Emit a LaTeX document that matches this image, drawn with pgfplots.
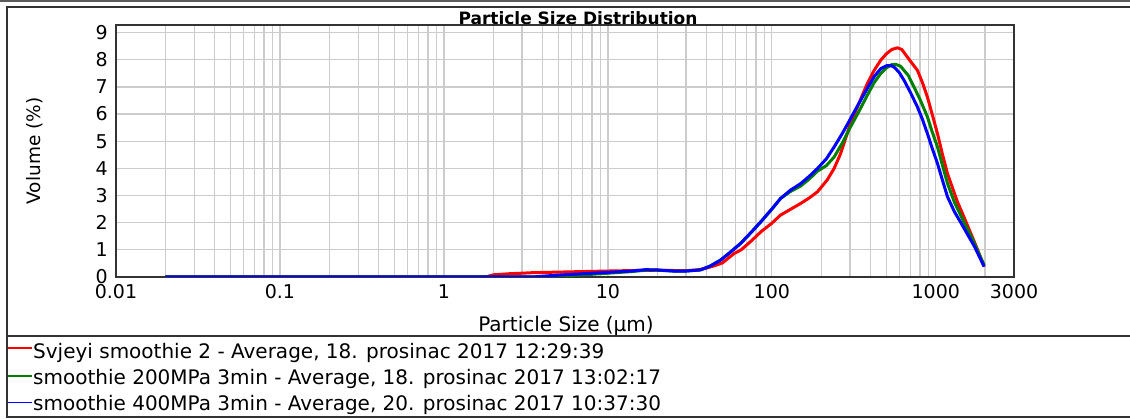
\documentclass[border=0pt]{standalone}
\usepackage{fontspec}
\setmainfont{DejaVu Sans}
\usepackage{pgfplots}
\pgfplotsset{compat=1.18}
\definecolor{gridc}{RGB}{204,204,204}
\definecolor{framec}{RGB}{51,51,51}
\definecolor{pgreen}{RGB}{0,128,0}
\begin{document}
\begin{tikzpicture}[x=1pt,y=1pt]
\useasboundingbox (0,0) rectangle (1130,418);
\fill[white] (0,0) rectangle (1130,418);
\draw[framec!80, line width=1.5pt] (0,417) -- (1130,417);
\draw[framec, line width=1.5pt] (1131,411) -- (7,411) -- (7,1) -- (1131,1);
\draw[framec, line width=1.5pt] (7,82) -- (1131,82);
\node[font=\fontsize{17pt}{20pt}\selectfont\bfseries, anchor=base, inner sep=0pt] at (578,393) {Particle Size Distribution};
\node[font=\fontsize{18.5pt}{22pt}\selectfont, rotate=90, inner sep=0pt] at (35,267) {Volume (\%)};
\node[font=\fontsize{20pt}{24pt}\selectfont, anchor=base, inner sep=0pt] at (566,87) {Particle Size (µm)};
% legend (keys)
\draw[red, line width=1.5pt] (8,70) -- (32,70);
\draw[pgreen, line width=1.5pt] (8,42) -- (32,42);
\draw[blue, line width=1.5pt] (8,15.5) -- (32,15.5);
\begin{scope}[every node/.style={font=\fontsize{20pt}{24pt}\selectfont, anchor=base west, inner sep=0pt}]
\node at (33,59.5) {Svjeyi smoothie 2 - Average, 18. prosinac 2017 12:29:39};
\node at (33,33.5) {smoothie 200MPa 3min - Average, 18. prosinac 2017 13:02:17};
\node at (33,7.5) {smoothie 400MPa 3min - Average, 20. prosinac 2017 10:37:30};
\end{scope}
\begin{axis}[
  xmode=log, log basis x=10,
  scale only axis, width=898pt, height=252pt,
  at={(116pt,141pt)}, anchor=south west,
  xmin=0.01, xmax=3000, ymin=0, ymax=9.28,
  xtick={0.01,0.1,1,10,100,1000,3000},
  xticklabels={0.01,0.1,1,10,100,1000,3000},
  minor xtick={0.02,0.03,0.04,0.05,0.06,0.07,0.08,0.09,0.2,0.3,0.4,0.5,0.6,0.7,0.8,0.9,2,3,4,5,6,7,8,9,20,30,40,50,60,70,80,90,200,300,400,500,600,700,800,900,2000},
  ytick={0,1,2,3,4,5,6,7,8,9},
  yticklabels={0,1,2,3,4,5,6,7,8,9},
  xmajorgrids, xminorgrids, ymajorgrids,
  grid style={gridc, line width=1.3pt},
  minor grid style={gridc, line width=1.3pt},
  major tick length=0pt, minor tick length=0pt, tick style={draw=none},
  axis line style={framec, line width=1.5pt},
  ticklabel style={font=\fontsize{19pt}{22pt}\selectfont},
  xticklabel style={inner sep=0pt, anchor=north, yshift=-7pt},
  yticklabel style={inner sep=0pt, anchor=east, xshift=-8pt},
]
\addplot[red, line width=3pt, line join=round] table {
0.02 0
1.8 0
2.0 0.08
2.5 0.12
3.0 0.14
3.5 0.16
5 0.18
7 0.2
10 0.22
15 0.24
20 0.25
25 0.24
30 0.23
36 0.27
40 0.33
45 0.42
50 0.52
59 0.87
65 1.0
75 1.33
86 1.67
100 1.98
113 2.28
124 2.42
150 2.71
170 2.92
190 3.14
218 3.58
240 4.0
263 4.55
302 5.66
340 6.4
382 7.12
420 7.6
461 7.98
500 8.22
540 8.38
583 8.44
620 8.38
700 7.95
773 7.61
830 7.15
889 6.63
950 6.0
1024 5.28
1100 4.5
1178 3.81
1355 2.77
1500 2.15
1634 1.61
1800 1.0
1972 0.38
};
\addplot[pgreen, line width=3pt, line join=round] table {
0.02 0
4.5 0
5 0.03
6 0.06
8 0.1
10 0.14
14 0.2
17 0.25
20 0.25
25 0.22
30 0.22
36.7 0.26
42 0.4
48.6 0.62
55 0.88
64.6 1.24
75 1.65
85.6 2.03
100 2.5
113 2.89
130 3.15
150 3.35
170 3.62
190 3.9
215 4.1
240 4.42
270 4.95
302 5.53
340 6.1
382 6.69
420 7.15
461 7.49
500 7.7
540 7.82
570 7.83
610 7.76
680 7.42
736 7.0
800 6.55
889 5.9
950 5.35
1024 4.79
1100 4.1
1178 3.45
1300 2.75
1432 2.22
1700 1.3
1972 0.44
};
\addplot[blue, line width=3pt, line join=round] table {
0.02 0
3.5 0
4 0.03
5 0.07
7 0.12
10 0.17
14 0.22
17 0.27
20 0.26
25 0.22
30 0.22
36.7 0.26
42 0.4
48.6 0.62
55 0.88
64.6 1.24
75 1.65
85.6 2.03
100 2.5
113 2.89
130 3.2
150 3.44
170 3.72
190 4.0
215 4.35
240 4.79
270 5.3
302 5.83
340 6.4
382 6.94
420 7.37
461 7.67
500 7.78
531 7.79
560 7.72
600 7.52
641 7.24
700 6.8
773 6.26
830 5.8
889 5.28
950 4.75
1024 4.18
1100 3.55
1178 2.96
1300 2.4
1432 1.97
1726 1.11
1972 0.38
};
\end{axis}
\end{tikzpicture}
\end{document}
